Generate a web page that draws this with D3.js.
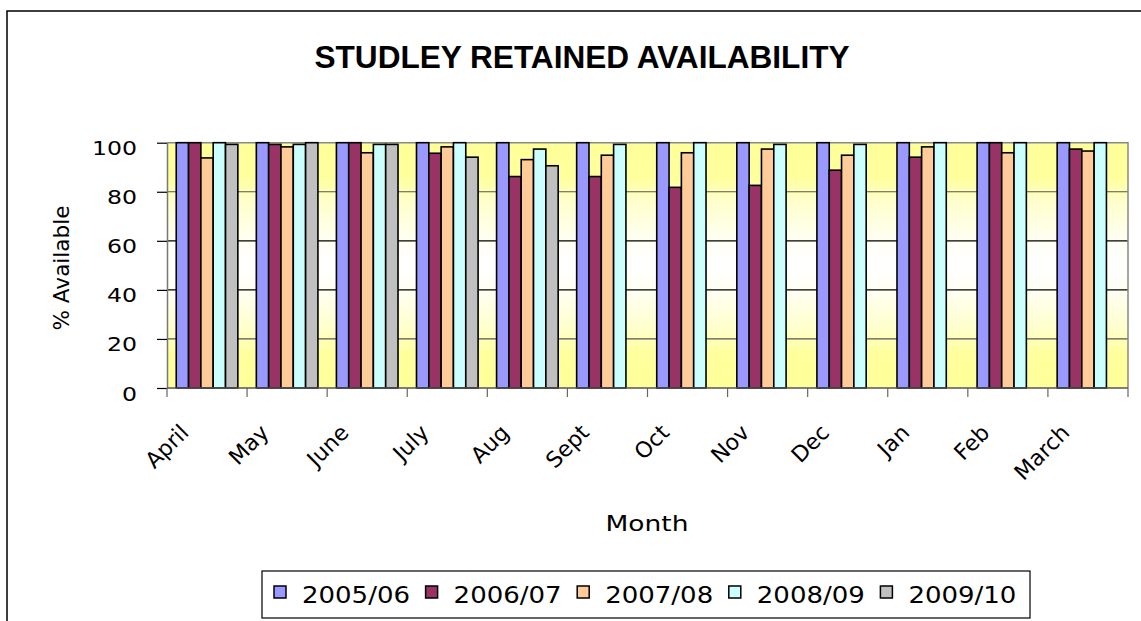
<!DOCTYPE html><html><head>
<title>Studley retained availability</title>
<style>
  body { margin:0; background:#fff; }
  svg text { fill:#000; }
</style>
</head>
<body>
<svg width="1141" height="621"></svg>
<script src="https://d3js.org/d3.v7.min.js"></script>
<script>
// chart data
var months = ["April","May","June","July","Aug","Sept","Oct","Nov","Dec","Jan","Feb","March"];
var seasons = ["2005/06","2006/07","2007/08","2008/09","2009/10"];
var colors = ["#9999ff","#993366","#ffcc99","#ccffff","#c0c0c0"];
var v0506 = [100,100,100,100,100,100,100,100,100,100,100,100];
var v0607 = [100,99.3,100,95.7,86.2,86.2,81.8,82.6,88.8,94.1,100,97.4];
var v0708 = [93.8,98.3,95.9,98.3,93.1,94.9,95.9,97.4,94.9,98.3,95.9,96.6];
var v0809 = [100,99.3,99.3,100,97.4,99.3,100,99.3,99.3,100,100,100];
var v0910 = [99.3,100,99.3,94.1,90.6,null,null,null,null,null,null,null];
var yTicks = [0,20,40,60,80,100];

var seriesVals = [v0506,v0607,v0708,v0809,v0910];
var rows = [];
seriesVals.forEach(function(vals, s) {
  vals.forEach(function(v, i) {
    if (v != null) rows.push({month: months[i], season: seasons[s], value: v, color: colors[s]});
  });
});

var svg = d3.select("svg");
var pLeft = 167, pRight = 1128, pTop = 142.7, pBottom = 388;

var x = d3.scaleBand().domain(months).range([pLeft, pRight]).padding(0);
var xs = d3.scaleBand().domain(seasons).range([0, x.bandwidth()]).paddingInner(0).paddingOuter(0.75);
var y = d3.scaleLinear().domain([0,100]).range([pBottom, pTop]);

// outer chart border
svg.append("rect").attr("x",7).attr("y",11).attr("width",1300).attr("height",800)
  .attr("fill","none").attr("stroke","#000").attr("stroke-width",1.5);

// plot area gradient
var grad = svg.append("defs").append("linearGradient").attr("id","bg")
  .attr("x1",0).attr("y1",0).attr("x2",0).attr("y2",1);
[[0,"#ffff99"],[0.14,"#ffff9d"],[0.24,"#ffffcc"],[0.4,"#fffff4"],[0.5,"#ffffff"],
 [0.6,"#fffff4"],[0.76,"#ffffcc"],[0.86,"#ffff9d"],[1,"#ffff99"]].forEach(function(s){
  grad.append("stop").attr("offset",s[0]).attr("stop-color",s[1]);
});
svg.append("rect").attr("x",pLeft).attr("y",pTop).attr("width",pRight-pLeft).attr("height",pBottom-pTop)
  .attr("fill","url(#bg)");

// gridlines
svg.append("g").selectAll("line").data(yTicks.filter(function(d){return d>0 && d<100;}))
  .enter().append("line")
  .attr("x1",pLeft).attr("x2",pRight)
  .attr("y1",function(d){return y(d);}).attr("y2",function(d){return y(d);})
  .attr("stroke",function(d){return (d==40||d==60) ? "#000" : "#555";}).attr("stroke-width",1.2);

// plot border (top/right)
svg.append("path").attr("d","M"+pLeft+","+y(100)+"H"+pRight+"V"+pBottom)
  .attr("fill","none").attr("stroke","#888").attr("stroke-width",1.5);

// bars
svg.append("g").selectAll("rect").data(rows).enter().append("rect")
  .attr("x",function(d){return x(d.month)+xs(d.season);})
  .attr("y",function(d){return y(d.value);})
  .attr("width",xs.bandwidth())
  .attr("height",function(d){return pBottom - y(d.value);})
  .attr("fill",function(d){return d.color;})
  .attr("stroke","#000").attr("stroke-width",1.6);

// y axis
var yAxis = d3.axisLeft(y).tickValues(yTicks).tickSize(10).tickSizeOuter(0);
var ga = svg.append("g").attr("transform","translate("+pLeft+",0)").call(yAxis);
ga.select(".domain").attr("stroke","#777").attr("stroke-width",1.5);
ga.selectAll(".tick line").attr("stroke","#000").attr("stroke-width",1.2);
ga.selectAll(".tick text").attr("font-family","DejaVu Sans").attr("font-size",20)
  .attr("fill","#000").attr("dy","0.6em")
  .attr("x",-30/1.18).attr("transform","scale(1.18,1)");

// x axis: line, ticks at category boundaries, rotated labels
svg.append("line").attr("x1",pLeft).attr("x2",pRight).attr("y1",pBottom).attr("y2",pBottom)
  .attr("stroke","#555").attr("stroke-width",1.5);
var tickPos = months.map(function(m){return x(m);}).concat([pRight]);
svg.append("g").selectAll("line").data(tickPos).enter().append("line")
  .attr("x1",function(d){return d;}).attr("x2",function(d){return d;})
  .attr("y1",pBottom).attr("y2",pBottom+9)
  .attr("stroke","#666").attr("stroke-width",1.2);
svg.append("g").selectAll("text").data(months).enter().append("text")
  .attr("transform",function(d){return "translate("+(x(d)+23)+","+(pBottom+46)+") rotate(-45)";})
  .attr("text-anchor","end")
  .attr("font-family","DejaVu Sans").attr("font-size",22)
  .text(function(d){return d;});

// titles
svg.append("text").attr("x",582).attr("y",68).attr("text-anchor","middle")
  .attr("font-family","Liberation Sans").attr("font-weight","bold").attr("font-size",31)
  .attr("textLength",535).attr("lengthAdjust","spacingAndGlyphs")
  .text("STUDLEY RETAINED AVAILABILITY");
svg.append("text").attr("transform","translate(69,268) rotate(-90)").attr("text-anchor","middle")
  .attr("font-family","DejaVu Sans").attr("font-size",21)
  .attr("textLength",125).attr("lengthAdjust","spacingAndGlyphs")
  .text("% Available");
svg.append("text").attr("x",647).attr("y",531).attr("text-anchor","middle")
  .attr("font-family","DejaVu Sans").attr("font-size",22)
  .attr("textLength",83).attr("lengthAdjust","spacingAndGlyphs")
  .text("Month");

// legend
svg.append("rect").attr("x",262).attr("y",571).attr("width",768).attr("height",47)
  .attr("fill","#fff").attr("stroke","#000").attr("stroke-width",1.2);
var lg = svg.append("g").selectAll("g").data(seasons).enter().append("g")
  .attr("transform",function(d,i){return "translate("+(274 + i*151.6)+",0)";});
lg.append("rect").attr("x",0).attr("y",586).attr("width",12).attr("height",12)
  .attr("fill",function(d,i){return colors[i];}).attr("stroke","#000").attr("stroke-width",1.5);
lg.append("text").attr("x",28).attr("y",603)
  .attr("font-family","DejaVu Sans").attr("font-size",23)
  .attr("textLength",108).attr("lengthAdjust","spacingAndGlyphs")
  .text(function(d){return d;});
</script>
</body>
</html>
